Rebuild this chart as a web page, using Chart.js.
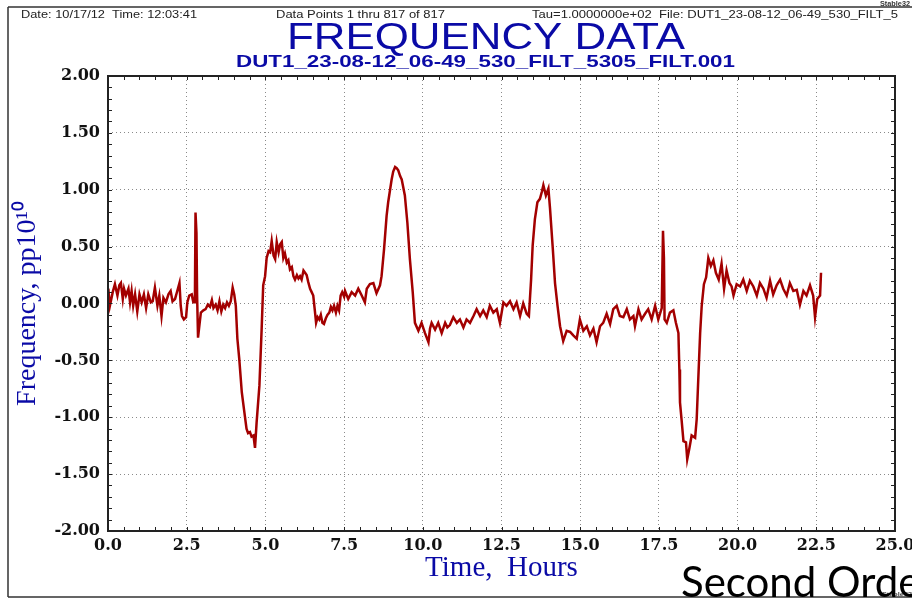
<!DOCTYPE html>
<html>
<head>
<meta charset="utf-8">
<script src="https://cdn.jsdelivr.net/npm/chart.js@4/dist/chart.umd.min.js"></script>
<style>
  html, body { margin: 0; padding: 0; background: #fff; }
  #wrap { width: 912px; height: 603px; }
</style>
</head>
<body>
<div id="wrap"><canvas id="freqChart" width="912" height="603"></canvas></div>
<script>
// Frequency residuals (hours vs pp10^10)
const hours = [
  0.01, 0.06, 0.15, 0.22, 0.30, 0.36, 0.41, 0.47, 0.51, 0.57, 0.65, 0.70, 0.75, 0.80, 0.86, 0.93,
  1.00, 1.07, 1.14, 1.21, 1.28, 1.36, 1.42, 1.49, 1.57, 1.63, 1.70, 1.76, 1.84, 1.92, 1.99,
  2.05, 2.13, 2.20, 2.27, 2.31, 2.35, 2.41, 2.48, 2.52, 2.58, 2.66, 2.71, 2.76, 2.78, 2.81, 2.83,
  2.86, 2.90, 2.95, 3.03, 3.10, 3.17, 3.24, 3.30, 3.35, 3.42, 3.48, 3.54, 3.60, 3.66, 3.72, 3.78,
  3.84, 3.90, 3.96, 4.01, 4.06,
  4.11, 4.17, 4.25, 4.32, 4.40, 4.45, 4.51, 4.56, 4.62, 4.67, 4.72, 4.81, 4.88, 4.93, 4.99,
  5.04, 5.10, 5.15, 5.20, 5.26, 5.31, 5.36, 5.42, 5.47, 5.52, 5.57, 5.62, 5.68, 5.73, 5.78, 5.84,
  5.89, 5.94, 6.00, 6.05, 6.10, 6.15, 6.21, 6.26, 6.31, 6.36, 6.42, 6.47, 6.52, 6.57, 6.61, 6.66,
  6.71, 6.76, 6.81, 6.86, 6.92, 6.97, 7.03, 7.08, 7.13, 7.18, 7.24, 7.29, 7.34, 7.39, 7.44, 7.50,
  7.53, 7.63, 7.74, 7.85, 7.95, 8.06, 8.16, 8.22, 8.32, 8.43, 8.53, 8.64, 8.69, 8.77, 8.85, 8.90,
  9.01, 9.06, 9.12, 9.17, 9.22, 9.28, 9.33, 9.43, 9.51, 9.59, 9.68, 9.75, 9.86, 9.96,
  10.07, 10.18, 10.23, 10.28, 10.39, 10.49, 10.60, 10.71, 10.78, 10.86, 10.97,
  11.08, 11.18, 11.29, 11.39, 11.50, 11.61, 11.71, 11.82, 11.92,
  12.03, 12.13, 12.24, 12.35, 12.45, 12.56, 12.66, 12.77, 12.88, 12.98,
  13.09, 13.19, 13.30, 13.37, 13.44, 13.49, 13.56, 13.64, 13.72, 13.78, 13.83, 13.91, 13.99,
  14.04, 14.13, 14.20, 14.28, 14.36, 14.46, 14.57, 14.68, 14.78, 14.89, 14.99,
  15.10, 15.21, 15.31, 15.42, 15.52, 15.63, 15.73, 15.84, 15.95,
  16.05, 16.16, 16.26, 16.37, 16.48, 16.58, 16.69, 16.74, 16.85, 16.95,
  17.06, 17.16, 17.27, 17.38, 17.48, 17.59, 17.63, 17.66, 17.68, 17.75, 17.85, 17.96,
  18.04, 18.12, 18.15, 18.17, 18.22, 18.28, 18.36, 18.40, 18.47, 18.54, 18.65, 18.70, 18.75,
  18.81, 18.86, 18.93, 19.00, 19.07, 19.15, 19.23, 19.31, 19.40, 19.49, 19.57, 19.65, 19.74,
  19.81, 19.87, 19.97, 20.08, 20.18, 20.29, 20.39, 20.50, 20.61, 20.71, 20.82, 20.92,
  21.03, 21.13, 21.24, 21.35, 21.45, 21.56, 21.66, 21.77, 21.88, 21.98,
  22.09, 22.19, 22.30, 22.40, 22.46, 22.53, 22.62, 22.65
];

const freq = [
  0.13, -0.02, 0.10, 0.17, 0.07, 0.16, 0.18, 0.04, 0.13, 0.07, 0.13, 0.01, 0.11, -0.02, 0.08, -0.07,
  0.08, 0.01, 0.08, -0.04, 0.08, 0.01, 0.02, 0.14, -0.02, 0.07, -0.11, 0.05, 0.01, 0.08, 0.11,
  0.02, 0.04, 0.11, 0.18, -0.02, -0.11, -0.14, -0.12, 0.01, 0.07, 0.08, 0.01, 0.01, 0.80, 0.62, 0.08,
  -0.30, -0.20, -0.08, -0.06, -0.05, -0.01, -0.03, 0.03, -0.04, -0.01, -0.06, 0.02, -0.07, -0.01, -0.04, 0.01,
  -0.02, 0.02, 0.14, 0.08, -0.02,
  -0.31, -0.49, -0.78, -0.93, -1.10, -1.14, -1.13, -1.17, -1.16, -1.27, -1.05, -0.72, -0.23, 0.16, 0.24,
  0.40, 0.46, 0.45, 0.55, 0.42, 0.39, 0.54, 0.45, 0.52, 0.54, 0.40, 0.44, 0.36, 0.38, 0.30, 0.32,
  0.24, 0.21, 0.25, 0.22, 0.24, 0.21, 0.29, 0.27, 0.25, 0.19, 0.13, 0.10, 0.07, -0.06, -0.17, -0.12,
  -0.14, -0.10, -0.17, -0.18, -0.13, -0.10, -0.08, -0.03, -0.06, -0.02, -0.08, -0.02, -0.06, 0.07, 0.10, 0.06,
  0.11, 0.04, 0.10, 0.07, 0.13, 0.07, 0.01, 0.13, 0.17, 0.18, 0.09, 0.16, 0.24, 0.48, 0.77, 0.89,
  1.09, 1.16, 1.20, 1.19, 1.17, 1.12, 1.09, 0.95, 0.71, 0.39, 0.10, -0.17, -0.24, -0.17,
  -0.26, -0.34, -0.22, -0.17, -0.23, -0.17, -0.26, -0.17, -0.21, -0.19, -0.12,
  -0.17, -0.14, -0.21, -0.14, -0.17, -0.11, -0.05, -0.11, -0.06,
  -0.12, -0.02, -0.08, -0.05, -0.17, 0.01, -0.02, 0.02, -0.05, 0.01,
  -0.11, 0.00, -0.09, -0.11, 0.21, 0.51, 0.74, 0.89, 0.92, 0.98, 1.04, 0.95, 1.01,
  0.84, 0.48, 0.18, -0.02, -0.20, -0.33, -0.24, -0.25, -0.28, -0.31, -0.14,
  -0.24, -0.20, -0.28, -0.22, -0.34, -0.20, -0.17, -0.09, -0.18,
  -0.05, -0.02, -0.11, -0.12, -0.05, -0.14, -0.11, -0.20, -0.05, -0.14,
  -0.09, -0.05, -0.14, -0.02, -0.14, -0.04, 0.64, 0.40, -0.14, -0.17, -0.08, -0.06,
  -0.17, -0.26, -0.58, -0.87, -1.02, -1.21, -1.22, -1.37, -1.27, -1.16, -1.18, -1.02, -0.67,
  -0.26, -0.02, 0.17, 0.23, 0.40, 0.33, 0.38, 0.27, 0.21, 0.35, 0.13, 0.29, 0.18,
  0.15, 0.07, 0.17, 0.15, 0.21, 0.11, 0.20, 0.15, 0.07, 0.18, 0.13, 0.05,
  0.20, 0.08, 0.16, 0.21, 0.13, 0.07, 0.18, 0.11, 0.12, -0.01,
  0.11, 0.07, 0.16, 0.07, -0.12, 0.04, 0.07, 0.27
];

const yTicks = [-2.0, -1.5, -1.0, -0.5, 0.0, 0.5, 1.0, 1.5, 2.0];
const xTicks = [0, 2.5, 5, 7.5, 10, 12.5, 15, 17.5, 20, 22.5, 25];

const BLUE = '#0a0aa6';

// draw text squeezed/stretched to a given width (the source image is scaled)
function fitText(ctx, text, x, y, width, font, color) {
    ctx.save();
    ctx.font = font;
    ctx.fillStyle = color;
    ctx.textBaseline = 'alphabetic';
    const w = ctx.measureText(text).width;
    ctx.translate(x, y);
    ctx.scale(width / w, 1);
    ctx.fillText(text, 0, 0);
    ctx.restore();
}

// plot frame + inward minor ticks on all four sides
const framePlugin = {
    id: 'frame',
    afterDatasetsDraw(chart) {
        const { ctx, chartArea: a, scales: { x, y } } = chart;
        ctx.save();
        ctx.strokeStyle = '#222';
        ctx.lineWidth = 1;
        ctx.beginPath();
        for (let v = y.min; v <= y.max + 1e-9; v += 0.1) {
            const py = Math.round(y.getPixelForValue(v)) + 0.5;
            ctx.moveTo(a.left, py); ctx.lineTo(a.left + 4, py);
            ctx.moveTo(a.right, py); ctx.lineTo(a.right - 4, py);
        }
        for (let v = x.min; v <= x.max + 1e-9; v += 0.5) {
            const px = Math.round(x.getPixelForValue(v)) + 0.5;
            ctx.moveTo(px, a.bottom); ctx.lineTo(px, a.bottom - 4);
            ctx.moveTo(px, a.top); ctx.lineTo(px, a.top + 4);
        }
        ctx.stroke();
        ctx.lineWidth = 2;
        ctx.strokeRect(a.left, a.top, a.right - a.left, a.bottom - a.top);
        ctx.restore();
    }
};

// Stable32 page header, outer border and the slide text overlay
const pagePlugin = {
    id: 'page',
    afterDraw(chart) {
        const ctx = chart.ctx;
        ctx.save();
        ctx.strokeStyle = '#333';
        ctx.lineWidth = 1.5;
        ctx.beginPath();
        ctx.moveTo(8, 7); ctx.lineTo(912, 7);
        ctx.moveTo(8, 7); ctx.lineTo(8, 597);
        ctx.moveTo(8, 597); ctx.lineTo(912, 597);
        ctx.stroke();
        ctx.restore();

        fitText(ctx, 'Stable32', 880, 6, 30, 'bold 7px "Liberation Sans"', '#333');
        fitText(ctx, 'Date: 10/17/12  Time: 12:03:41', 21, 18, 176, '10px "Liberation Sans"', '#222');
        fitText(ctx, 'Data Points 1 thru 817 of 817', 276, 18, 169, '10px "Liberation Sans"', '#222');
        fitText(ctx, 'Tau=1.0000000e+02  File: DUT1_23-08-12_06-49_530_FILT_5', 532, 18, 366, '10px "Liberation Sans"', '#222');
        fitText(ctx, 'FREQUENCY DATA', 287, 49, 398, '37px "Liberation Sans"', BLUE);
        fitText(ctx, 'DUT1_23-08-12_06-49_530_FILT_5305_FILT.001', 236, 67, 499, 'bold 17px "Liberation Sans"', BLUE);

        fitText(ctx, 'Stable32', 882, 596, 30, 'bold 6px "Liberation Sans"', '#444');
        ctx.save();
        ctx.font = '42px Lato';
        ctx.fillStyle = '#000';
        ctx.fillText('Second Order', 681, 597);
        ctx.restore();
    }
};

const gridStyle = { color: '#8a8a8a', lineWidth: 1, drawTicks: false };
const tickFont = { family: 'DejaVu Serif', size: 16, weight: 'bold' };

new Chart(document.getElementById('freqChart'), {
    type: 'line',
    data: {
        datasets: [{
            label: 'Frequency',
            data: hours.map((h, i) => ({ x: h, y: freq[i] })),
            borderColor: '#a30000',
            borderWidth: 2.5,
            pointRadius: 0,
            tension: 0,
            fill: false
        }]
    },
    options: {
        responsive: false,
        animation: false,
        devicePixelRatio: 1,
        layout: { padding: { top: 76, right: 17, left: 0, bottom: 0 } },
        plugins: {
            legend: { display: false },
            tooltip: { enabled: false }
        },
        scales: {
            x: {
                type: 'linear',
                min: 0,
                max: 25,
                afterBuildTicks: s => { s.ticks = xTicks.map(v => ({ value: v })); },
                afterFit: s => { s.height = 72; s.paddingLeft = 0; s.paddingRight = 0; },
                ticks: {
                    color: '#111',
                    font: tickFont,
                    padding: 5,
                    maxRotation: 0,
                    autoSkip: false,
                    callback: v => Number(v).toFixed(1)
                },
                grid: gridStyle,
                border: { display: false, dash: [1, 3] },
                title: {
                    display: true,
                    text: 'Time,  Hours',
                    color: BLUE,
                    font: { family: 'Liberation Serif', size: 29 },
                    padding: { top: 0, bottom: 17 }
                }
            },
            y: {
                min: -2,
                max: 2,
                afterBuildTicks: s => { s.ticks = yTicks.map(v => ({ value: v })); },
                afterFit: s => { s.width = 108; },
                ticks: {
                    color: '#111',
                    font: tickFont,
                    padding: 8,
                    autoSkip: false,
                    callback: v => Number(v).toFixed(2)
                },
                grid: gridStyle,
                border: { display: false, dash: [1, 3] },
                title: {
                    display: true,
                    text: 'Frequency, pp10\u00B9\u2070',
                    color: BLUE,
                    font: { family: 'Liberation Serif', size: 28 },
                    padding: { top: 11, bottom: 0 }
                }
            }
        }
    },
    plugins: [framePlugin, pagePlugin]
});
</script>
</body>
</html>
